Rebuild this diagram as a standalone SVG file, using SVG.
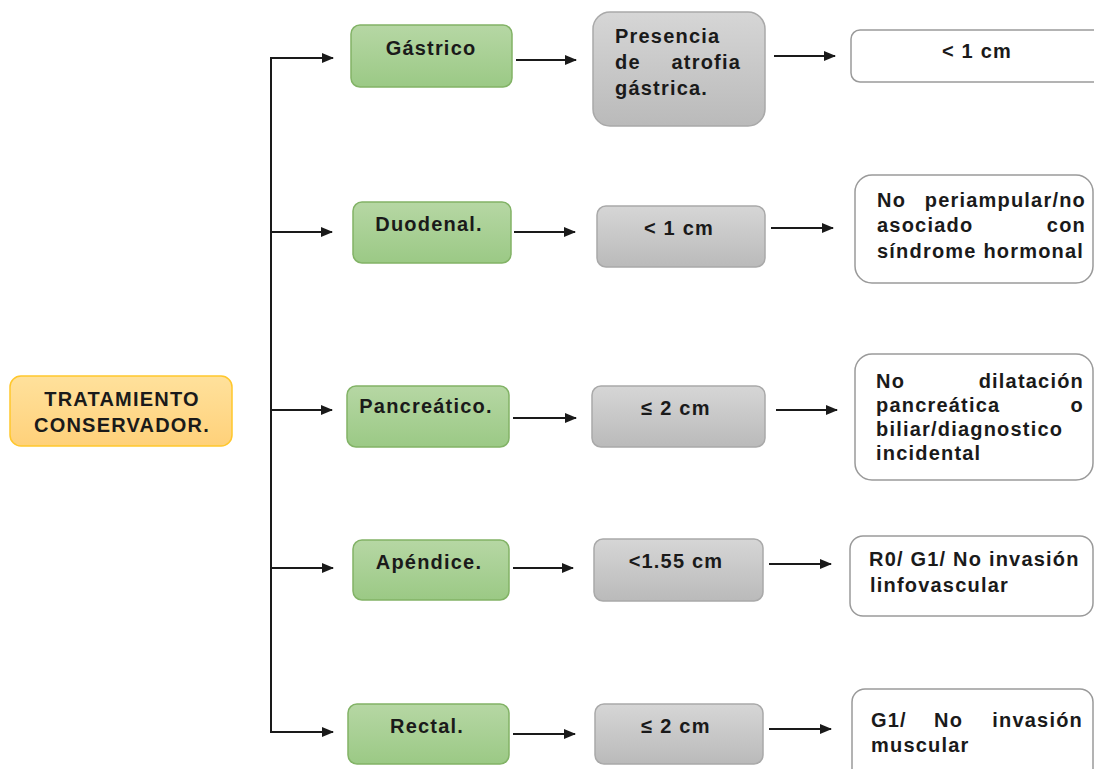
<svg xmlns="http://www.w3.org/2000/svg" width="1094" height="769" viewBox="0 0 1094 769">
<defs>
<linearGradient id="gGreen" x1="0" y1="0" x2="0" y2="1"><stop offset="0" stop-color="#b6d7a4"/><stop offset="1" stop-color="#9bc985"/></linearGradient>
<linearGradient id="gGray" x1="0" y1="0" x2="0" y2="1"><stop offset="0" stop-color="#d6d6d6"/><stop offset="1" stop-color="#bababa"/></linearGradient>
<linearGradient id="gOrange" x1="0" y1="0" x2="0" y2="1"><stop offset="0" stop-color="#ffe19c"/><stop offset="1" stop-color="#ffd17a"/></linearGradient>
<marker id="arr" markerUnits="userSpaceOnUse" markerWidth="12" markerHeight="10" refX="11" refY="5" orient="auto"><path d="M0,0 L12,5 L0,10 z" fill="#1a1a1a"/></marker>
<style>
.t{font-family:"Liberation Sans",Arial,sans-serif;font-weight:bold;font-size:20px;letter-spacing:1.2px;fill:#1a1a1a}
.m{text-anchor:middle}
.e{text-anchor:end}
.green{fill:url(#gGreen);stroke:#82b366;stroke-width:1.5}
.gray{fill:url(#gGray);stroke:#a9a9a9;stroke-width:1.5}
.white{fill:#ffffff;stroke:#9a9a9a;stroke-width:1.5}
.orange{fill:url(#gOrange);stroke:#ffc72c;stroke-width:1.5}
.c{fill:none;stroke:#1a1a1a;stroke-width:2}
.ca{fill:none;stroke:#1a1a1a;stroke-width:2;marker-end:url(#arr)}
</style>
</defs>
<rect width="1094" height="769" fill="#ffffff"/>

<g id="connectors">
<path class="c" d="M271,58 V732"/>
<path class="ca" d="M270,58 H333"/>
<path class="ca" d="M271,232 H332"/>
<path class="ca" d="M271,410 H332"/>
<path class="ca" d="M271,568 H333"/>
<path class="ca" d="M270,732 H333"/>
<path class="ca" d="M516,60 H576"/>
<path class="ca" d="M774,56 H835"/>
<path class="ca" d="M514,232 H575"/>
<path class="ca" d="M771,228 H833"/>
<path class="ca" d="M513,418 H576"/>
<path class="ca" d="M776,410 H837"/>
<path class="ca" d="M513,568 H573"/>
<path class="ca" d="M769,564 H831"/>
<path class="ca" d="M513,734 H575"/>
<path class="ca" d="M769,729 H831"/>
</g>

<g id="root">
<rect class="orange" x="10" y="376" width="222" height="70" rx="11"/>
<text class="t m" x="122" y="406">TRATAMIENTO</text>
<text class="t m" x="122" y="432">CONSERVADOR.</text>
</g>

<g id="gastrico">
<rect class="green" x="351" y="25" width="161" height="62" rx="9"/>
<text class="t m" x="431" y="55">Gástrico</text>
</g>
<g id="duodenal">
<rect class="green" x="353" y="202" width="158" height="61" rx="9"/>
<text class="t m" x="429" y="231">Duodenal.</text>
</g>
<g id="pancreatico">
<rect class="green" x="347" y="386" width="162" height="61" rx="9"/>
<text class="t m" x="426" y="413">Pancreático.</text>
</g>
<g id="apendice">
<rect class="green" x="353" y="540" width="156" height="60" rx="9"/>
<text class="t m" x="429" y="569">Apéndice.</text>
</g>
<g id="rectal">
<rect class="green" x="348" y="704" width="161" height="60" rx="9"/>
<text class="t m" x="427" y="733">Rectal.</text>
</g>

<g id="atrofia">
<rect class="gray" x="593" y="12" width="172" height="114" rx="17"/>
<text class="t" x="615" y="43">Presencia</text>
<text class="t" x="615" y="69">de</text>
<text class="t e" x="741" y="69">atrofia</text>
<text class="t" x="615" y="95">gástrica.</text>
</g>
<g id="duo-size">
<rect class="gray" x="597" y="206" width="168" height="61" rx="9"/>
<text class="t m" x="679" y="235">&lt; 1 cm</text>
</g>
<g id="pan-size">
<rect class="gray" x="592" y="386" width="173" height="61" rx="9"/>
<text class="t m" x="676" y="415">≤ 2 cm</text>
</g>
<g id="ape-size">
<rect class="gray" x="594" y="539" width="169" height="62" rx="9"/>
<text class="t m" x="676" y="568">&lt;1.55 cm</text>
</g>
<g id="rec-size">
<rect class="gray" x="595" y="704" width="168" height="60" rx="9"/>
<text class="t m" x="676" y="733">≤ 2 cm</text>
</g>

<g id="gas-crit">
<rect class="white" x="851" y="30" width="260" height="52" rx="9"/>
<text class="t m" x="977" y="58">&lt; 1 cm</text>
</g>
<g id="duo-crit">
<rect class="white" x="855" y="175" width="238" height="108" rx="17"/>
<text class="t" x="877" y="207">No</text>
<text class="t e" x="1086" y="207">periampular/no</text>
<text class="t" x="877" y="232">asociado</text>
<text class="t e" x="1086" y="232">con</text>
<text class="t" x="877" y="258">síndrome hormonal</text>
</g>
<g id="pan-crit">
<rect class="white" x="855" y="354" width="238" height="126" rx="17"/>
<text class="t" x="876" y="388">No</text>
<text class="t e" x="1084" y="388">dilatación</text>
<text class="t" x="876" y="412">pancreática</text>
<text class="t e" x="1084" y="412">o</text>
<text class="t" x="876" y="436">biliar/diagnostico</text>
<text class="t" x="876" y="460">incidental</text>
</g>
<g id="ape-crit">
<rect class="white" x="850" y="536" width="243" height="80" rx="13"/>
<text class="t" x="869" y="566">R0/ G1/ No invasión</text>
<text class="t" x="870" y="592">linfovascular</text>
</g>
<g id="rec-crit">
<rect class="white" x="852" y="689" width="241" height="100" rx="13"/>
<text class="t" x="871" y="727">G1/</text>
<text class="t" x="934" y="727">No</text>
<text class="t e" x="1083" y="727">invasión</text>
<text class="t" x="871" y="752">muscular</text>
</g>
</svg>
